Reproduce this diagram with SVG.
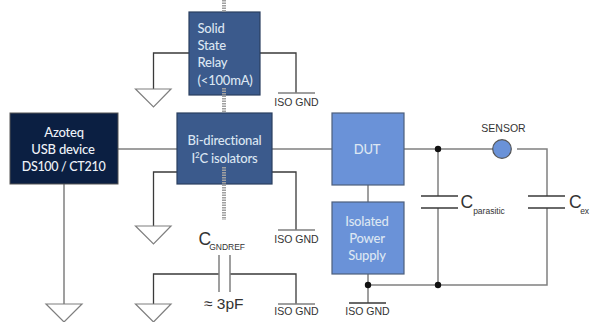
<svg xmlns="http://www.w3.org/2000/svg" width="590" height="322" viewBox="0 0 590 322">
<style>
.w{fill:none;stroke:#808080;stroke-width:1.5}
.k{fill:none;stroke:#3a3a3a;stroke-width:1.3}
.g{fill:#fff;stroke:#7f7f7f;stroke-width:1.2}
.dot{fill:none;stroke:#a0a0a0;stroke-width:4;stroke-dasharray:1.5 1}
.b{font-family:Lato,"Noto Sans",sans-serif;font-size:13px;font-weight:500;letter-spacing:-0.2px;fill:#dce6f2}
.a{font-family:"Liberation Sans",Arial,sans-serif;fill:#333}
.iso{font-size:10.5px}
.big{font-size:17.5px}
.sub{font-size:8.5px}
.m{text-anchor:middle}
.d{fill:#111}
</style>
<g id="connectors">
<path class="w" d="M118 149H177M272 149H332M404 149H493M517 149H547V196M547 208V285H368M438 149V196M438 208V285M368 185V202M368 274V303M64 184V304"/>
<path class="k" d="M189 53H153.500V89M260 53H296V93M177 172H153.500V226M272 172H296V230M219 274H153.500V304M230 274H296V304"/>
<path class="w" d="M219 255V292M230 255V292M278 93H315M278 230H315M278 304H315"/>
<path class="k" d="M349 303H386M421 196H458M421 208H458M528 196H565M528 208H565"/>
<circle class="d" cx="438" cy="149" r="3.200"/>
<circle class="d" cx="438" cy="285" r="3.200"/>
<circle class="d" cx="368" cy="285" r="3.200"/>
</g>
<g id="grounds">
<path class="g" d="M135.500 89H171L153.500 107Z"/>
<path class="g" d="M135.500 226H171L153.500 244Z"/>
<path class="g" d="M135.500 304H171L153.500 322Z"/>
<path class="g" d="M46 304H82L64 322Z"/>
</g>
<g id="relay">
<rect x="189" y="12" width="71" height="83" fill="#3b5a8c" stroke="#2a3f5f" stroke-width="1.200"/>
<text class="b" x="197.500" y="33">Solid</text>
<text class="b" x="197.500" y="50">State</text>
<text class="b" x="197.500" y="67">Relay</text>
<text class="b" x="197.500" y="85">(&lt;100mA)</text>
</g>
<g id="isolators">
<rect x="177" y="113" width="95" height="71" fill="#3b5a8c" stroke="#2a3f5f" stroke-width="1.200"/>
<text class="b m" x="224.500" y="145">Bi-directional</text>
<text class="b m" x="224.500" y="163">I<tspan font-size="8" dy="-5">2</tspan><tspan dy="5">C isolators</tspan></text>
</g>
<path id="isolation-line" class="dot" d="M224 0V12M224 88V113M224 167V220"/>
<g id="azoteq">
<rect x="10" y="113" width="108" height="71" fill="#0b1f42" stroke="#555" stroke-width="1"/>
<text class="b m" x="64" y="137" style="fill:#eef2f8">Azoteq</text>
<text class="b m" x="63" y="154" style="fill:#eef2f8">USB device</text>
<text class="b m" x="63.500" y="171" style="fill:#eef2f8;font-size:12.500px;letter-spacing:-0.3px">DS100 / CT210</text>
</g>
<g id="dut">
<rect x="332" y="113" width="72" height="72" fill="#6a92d8" stroke="#4d5f7c" stroke-width="1.200"/>
<text class="b m" x="367" y="154">DUT</text>
</g>
<g id="power">
<rect x="332" y="202" width="72" height="72" fill="#6a92d8" stroke="#4d5f7c" stroke-width="1.200"/>
<text class="b m" x="367" y="226">Isolated</text>
<text class="b m" x="367" y="243">Power</text>
<text class="b m" x="367" y="260">Supply</text>
</g>
<g id="sensor">
<circle cx="502" cy="149" r="9.300" fill="#6a92d8" stroke="#555" stroke-width="1.200"/>
<text class="a m" x="503.500" y="132" font-size="10.500">SENSOR</text>
</g>
<g id="labels">
<text class="a iso m" x="296.500" y="106">ISO GND</text>
<text class="a iso m" x="296.500" y="243">ISO GND</text>
<text class="a iso m" x="296.500" y="315">ISO GND</text>
<text class="a iso m" x="367.500" y="315">ISO GND</text>
<text class="a big" x="198.500" y="245">C<tspan class="sub" dx="-2" dy="5">GNDREF</tspan></text>
<text class="a" x="204" y="309" font-size="15.500">≈ 3pF</text>
<text class="a big" x="460.500" y="208">C<tspan class="sub" dy="6">parasitic</tspan></text>
<text class="a big" x="569" y="208">C<tspan class="sub" dx="-1.500" dy="6">ex</tspan></text>
</g>
</svg>
